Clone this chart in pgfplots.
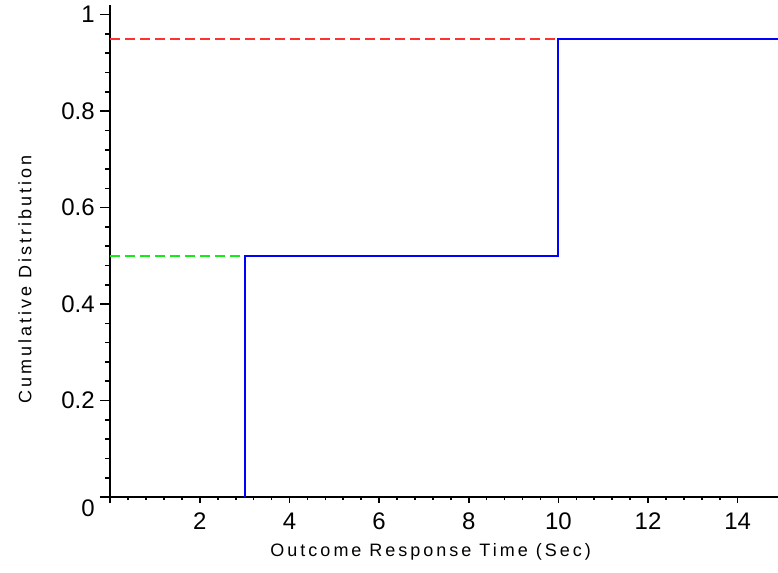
\documentclass[border=0pt]{standalone}
\usepackage{fontspec}
\setmainfont{Liberation Sans}
\newfontfamily\labelfont{Liberation Sans}[LetterSpace=16.7]
\usepackage{pgfplots}
\pgfplotsset{compat=1.18}
\definecolor{cdfblue}{RGB}{0,0,255}
\definecolor{lvlred}{RGB}{255,50,50}
\definecolor{lvlgreen}{RGB}{20,235,20}
\begin{document}
\begin{tikzpicture}
\begin{axis}[
    scale only axis,
    width=334.1pt, height=246.2pt,
    xmin=0, xmax=14.9,
    ymin=0, ymax=1.02,
    axis lines=left,
    axis line style={-, line width=0.9pt},
    tick align=outside,
    tick style={black, line width=0.8pt},
    xtick={0,2,...,14},
    xticklabels={,2,4,6,8,10,12,14},
    ytick={0,0.2,0.4,0.6,0.8,1},
    yticklabels={,0.2,0.4,0.6,0.8,1},
    extra y ticks={0},
    extra y tick labels={0},
    extra y tick style={yticklabel style={yshift=-5.65pt}},
    minor x tick num=4,
    minor y tick num=4,
    xtick style={/pgfplots/major tick length=3pt, /pgfplots/minor tick length=1.5pt},
    ytick style={/pgfplots/major tick length=5pt, /pgfplots/minor tick length=2.5pt},
    ticklabel style={font=\fontsize{12}{14}\selectfont},
    /pgf/number format/assume math mode=true,
    xlabel={Outcome Response Time (Sec)},
    ylabel={Cumulative Distribution},
    every axis x label/.style={at={([yshift=-27.65pt]axis cs:7.15,0)}, anchor=center,
        font=\labelfont\fontsize{9}{11}\selectfont},
    every axis y label/.style={at={([xshift=-42.65pt]axis cs:0,0.451)}, anchor=center, rotate=90,
        font=\labelfont\fontsize{9}{11}\selectfont},
]
\addplot[lvlred, line width=1pt, dash pattern=on 5pt off 2.5pt] coordinates {(0,0.95) (10,0.95)};
\addplot[lvlgreen, line width=1pt, dash pattern=on 5pt off 2.5pt] coordinates {(0,0.5) (3,0.5)};
\addplot[cdfblue, line width=1pt] coordinates {
    (3,0) (3,0.5) (10,0.5) (10,0.95) (14.9,0.95)
};
\coordinate (O) at (axis cs:0,0);
\end{axis}
\pgfresetboundingbox
\path[use as bounding box] ([shift={(-55.15pt,-37.65pt)}]O) rectangle ([shift={(334.1pt,248.7pt)}]O);
\end{tikzpicture}
\end{document}
